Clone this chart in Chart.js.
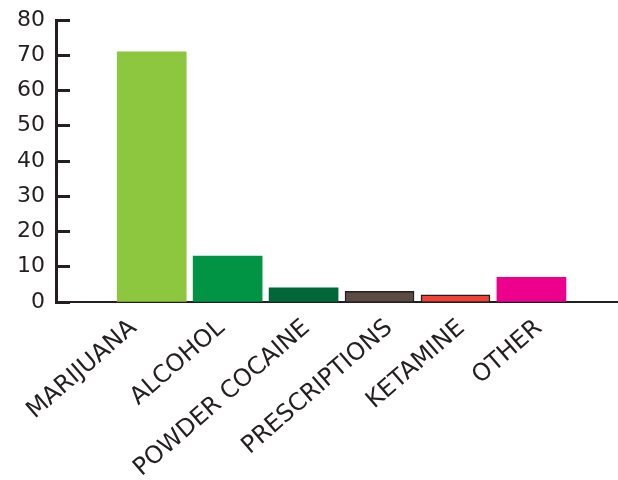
<!DOCTYPE html>
<html>
<head>
<meta charset="utf-8">
<script src="https://cdn.jsdelivr.net/npm/chart.js@4/dist/chart.umd.min.js"></script>
<style>
    html, body { margin: 0; padding: 0; background: #fff; }
    #wrap { width: 618px; height: 480px; }
</style>
</head>
<body>
<div id="wrap"><canvas id="drugChart"></canvas></div>
<script>
const categories = ['MARIJUANA', 'ALCOHOL', 'POWDER COCAINE', 'PRESCRIPTIONS', 'KETAMINE', 'OTHER'];
const values = [71, 13, 4, 3, 2, 7];
const yTicks = [0, 10, 20, 30, 40, 50, 60, 70, 80];

const barColors = ['#8dc63f', '#009444', '#006838', '#5c4b42', '#ef4136', '#ec008c'];
const edgeColors = ['#8dc63f', '#009444', '#006838', '#231f20', '#231f20', '#ec008c'];
const edgeWidths = [0, 0, 0, 1.5, 1.5, 0];

// small hand nudges for the slanted labels, in fractions of a bar slot
const labelNudge = [-0.24, -0.08, 0.04, 0.13, 0.08, 0.1];

const ink = '#231f20';

const ctx = document.getElementById('drugChart').getContext('2d');
const chart = new Chart(ctx, {
    type: 'bar',
    data: {
        datasets: [{
            data: values.map((v, i) => ({ x: i, y: v })),
            backgroundColor: barColors,
            borderColor: edgeColors,
            borderWidth: edgeWidths,
            borderSkipped: 'bottom',
            barThickness: 69
        }]
    },
    options: {
        responsive: true,
        maintainAspectRatio: false,
        animation: false,
        layout: { padding: { top: 20, left: 0, right: 0, bottom: 0 } },
        plugins: {
            legend: { display: false },
            tooltip: { enabled: false }
        },
        scales: {
            x: {
                type: 'linear',
                offset: false,
                min: -1.26,
                max: 6.14,
                afterBuildTicks: (scale) => {
                    scale.ticks = categories.map((c, i) => ({ value: i + labelNudge[i] }));
                },
                afterFit: (scale) => {
                    scale.height = 178;
                },
                grid: { display: true, offset: false, drawOnChartArea: false, drawTicks: false },
                border: { display: true, color: ink, width: 2 },
                ticks: {
                    autoSkip: false,
                    minRotation: 41,
                    maxRotation: 41,
                    padding: 12,
                    color: ink,
                    font: { family: 'DejaVu Sans', size: 24 },
                    callback: (v, idx) => categories[idx]
                }
            },
            y: {
                min: 0,
                max: 80,
                afterBuildTicks: (scale) => {
                    scale.ticks = yTicks.map(v => ({ value: v }));
                },
                afterFit: (scale) => {
                    scale.width = 56;
                    scale.paddingTop = 0;
                    scale.paddingBottom = 0;
                },
                grid: {
                    display: true,
                    drawOnChartArea: false,
                    drawTicks: true,
                    tickLength: -14,
                    tickWidth: 3,
                    tickColor: ink
                },
                border: { display: true, color: ink, width: 3 },
                ticks: {
                    padding: 25,
                    color: ink,
                    font: { family: 'DejaVu Sans', size: 22 }
                }
            }
        }
    }
});
</script>
</body>
</html>
